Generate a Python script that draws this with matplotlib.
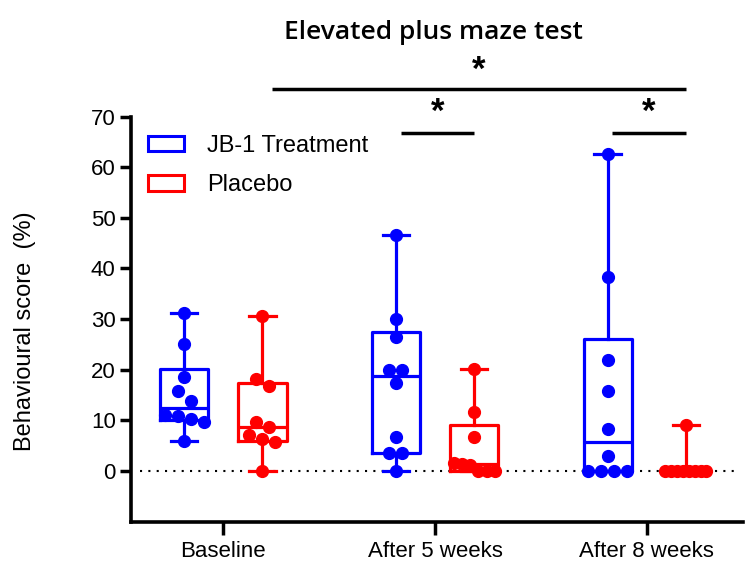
import numpy as np
import matplotlib
matplotlib.use("Agg")
import matplotlib.pyplot as plt
from matplotlib.patches import Patch
from matplotlib.transforms import blended_transform_factory

# values (behavioural score, %)
groups = ["Baseline", "After 5 weeks", "After 8 weeks"]
jb1_scores = [
    [31.3, 25.0, 18.5, 15.9, 13.8, 11.0, 10.8, 10.3, 9.6, 6.0],
    [46.7, 30.0, 26.5, 20.0, 20.0, 17.4, 6.7, 3.5, 3.5, 0.0],
    [62.6, 38.4, 22.0, 15.9, 8.3, 3.0, 0.0, 0.0, 0.0, 0.0],
]
placebo_scores = [
    [30.7, 18.2, 16.7, 9.6, 8.7, 7.2, 6.3, 5.7, 0.0],
    [20.1, 11.6, 6.7, 1.6, 1.3, 1.1, 0.0, 0.0, 0.0],
    [9.0, 0.0, 0.0, 0.0, 0.0, 0.0, 0.0, 0.0, 0.0],
]
series_labels = ["JB-1 Treatment", "Placebo"]
series_colors = ["#0000FF", "#FF0000"]

# significance brackets: (x start, x end, bar height, star height)
sig_bars = [
    (0.23, 2.185, 75.4, 79.2),
    (0.84, 1.185, 66.8, 70.9),
    (1.835, 2.185, 66.8, 70.9),
]

plt.rcParams["font.family"] = ["Liberation Sans", "DejaVu Sans"]

fig = plt.figure(figsize=(7.49, 5.74), dpi=100)
ax = fig.add_axes([0.1749, 0.0911, 0.8167, 0.7059])

xlim = (-0.436, 2.453)
ylim = (-10, 70)
ax.set_xlim(*xlim)
ax.set_ylim(*ylim)

offset = 0.185
box_w = 0.227

# pixel scales for the swarm layout
bbox = ax.get_position()
px_x = bbox.width * fig.get_figwidth() * fig.dpi / (xlim[1] - xlim[0])
px_y = bbox.height * fig.get_figheight() * fig.dpi / (ylim[1] - ylim[0])


def swarm_offsets(values, tol_px=11.5, gap_px=13.0, span_px=41.0):
    vals = np.asarray(values, dtype=float)
    order = np.argsort(vals, kind="stable")
    rows = []
    for i in order:
        if rows and (vals[i] - vals[rows[-1][0]]) * px_y <= tol_px:
            rows[-1].append(i)
        else:
            rows.append([i])
    offs = np.zeros(len(vals))
    for row in rows:
        k = len(row)
        if k == 1:
            continue
        step = min(gap_px, span_px / (k - 1))
        row = sorted(row, key=lambda j: -vals[j])
        for n, j in enumerate(row):
            offs[j] = (n - (k - 1) / 2) * step / px_x
    return offs


def box_stats(values):
    q1, med, q3 = np.percentile(values, [25, 50, 75], method="weibull")
    return dict(med=med, q1=q1, q3=q3, whislo=min(values), whishi=max(values), fliers=[])


ax.axhline(0, xmin=0.015, xmax=0.985, color="black", lw=1.5,
           linestyle=(0, (1, 3)), zorder=1)

for s, (scores, color) in enumerate(zip([jb1_scores, placebo_scores], series_colors)):
    sign = -1 if s == 0 else 1
    positions = [g + sign * offset for g in range(len(groups))]
    stats = [box_stats(v) for v in scores]
    lp = dict(color=color, linewidth=2.3)
    ax.bxp(stats, positions=positions, widths=box_w, showfliers=False,
           boxprops=lp, whiskerprops=lp, capprops=lp, medianprops=lp,
           capwidths=0.125, manage_ticks=False, zorder=2)
    for pos, vals in zip(positions, scores):
        xs = pos + swarm_offsets(vals)
        ax.plot(xs, vals, "o", color=color, ms=8.5, mec=color, zorder=3,
                clip_on=False)

# significance bars
for x1, x2, yb, ys in sig_bars:
    ax.plot([x1, x2], [yb, yb], color="black", lw=2.5, clip_on=False,
            solid_capstyle="butt")
    ax.text((x1 + x2) / 2, ys, "*", ha="center", va="center", fontsize=25,
            fontweight="bold", clip_on=False)

trans = blended_transform_factory(ax.transAxes, ax.transData)
ax.text(0.495, 86.5, "Elevated plus maze test", transform=trans, ha="center",
        va="center", fontsize=19, fontweight="semibold",
        family=["Open Sans", "DejaVu Sans"])

ax.set_xticks(range(len(groups)))
ax.set_xticklabels(groups, fontsize=16)
ax.set_yticks(np.arange(0, 71, 10))
ax.tick_params(axis="y", labelsize=16, length=8, width=2.5, pad=3)
ax.tick_params(axis="x", length=9, width=2.5, pad=5)

for side in ["top", "right"]:
    ax.spines[side].set_visible(False)
for side in ["left", "bottom"]:
    ax.spines[side].set_linewidth(2.6)

ax.set_ylabel("Behavioural score  (%)", fontsize=17)
ax.yaxis.set_label_coords(-0.155, 0.47)

handles = [Patch(facecolor="none", edgecolor=c, linewidth=2.2) for c in series_colors]
ax.legend(handles, series_labels, loc="upper left", bbox_to_anchor=(0.028, 0.955),
          frameon=False, fontsize=17, handlelength=1.5, handleheight=0.65,
          handletextpad=1.0, labelspacing=0.75, borderpad=0, borderaxespad=0)

fig.savefig("out.png", dpi=100)
